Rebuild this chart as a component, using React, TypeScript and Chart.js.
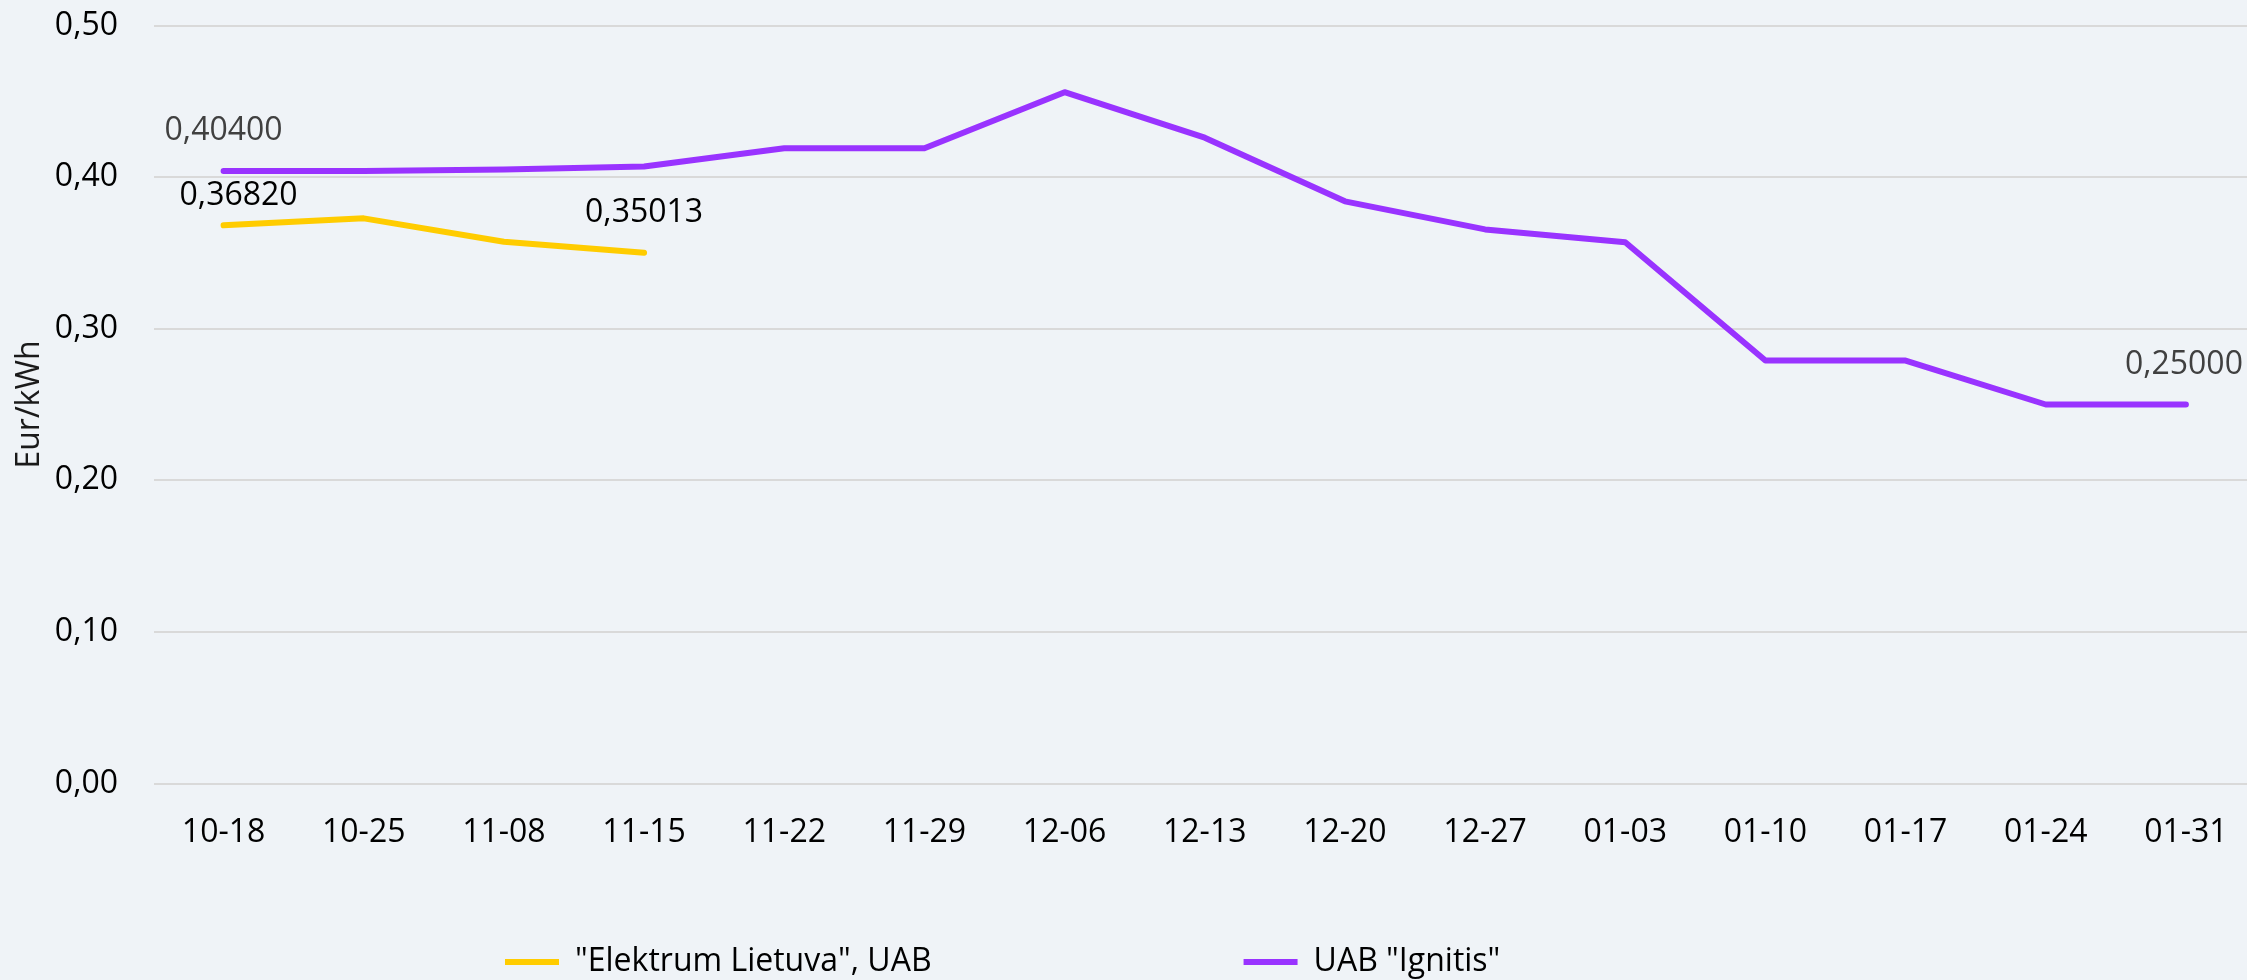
import React, { useEffect, useRef } from 'react';
import { Chart, registerables } from 'chart.js';

Chart.register(...registerables);

const categories = ['10-18', '10-25', '11-08', '11-15', '11-22', '11-29', '12-06', '12-13', '12-20', '12-27', '01-03', '01-10', '01-17', '01-24', '01-31'];
const elektrumValues: (number | null)[] = [0.3682, 0.3728, 0.3574, 0.35013, null, null, null, null, null, null, null, null, null, null, null];
const ignitisValues: number[] = [0.404, 0.404, 0.405, 0.407, 0.419, 0.419, 0.456, 0.426, 0.384, 0.3655, 0.357, 0.279, 0.279, 0.25, 0.25];
const yTickLabels = ['0,00', '0,10', '0,20', '0,30', '0,40', '0,50'];
const seriesNames = ['"Elektrum Lietuva", UAB', 'UAB "Ignitis"'];
const yAxisTitle = 'Eur/kWh';

const FONT = "'Open Sans', 'DejaVu Sans', sans-serif";
const BG = 'rgb(239,243,247)';
const YELLOW = '#FFCC00';
const PURPLE = '#9933FF';

// which points carry a value label, and how it is nudged
const labelSpec = [
  { dataset: 0, index: 0, dx: 15, dy: -29, color: '#000000' },
  { dataset: 0, index: 3, dx: 0, dy: -40, color: '#000000' },
  { dataset: 1, index: 0, dx: 0, dy: -40, color: '#404040' },
  { dataset: 1, index: 14, dx: -2, dy: -40, color: '#404040' },
];

const valueLabels = {
  id: 'valueLabels',
  afterDatasetsDraw(chart: any) {
    const ctx = chart.ctx;
    ctx.save();
    ctx.font = `32px ${FONT}`;
    ctx.textAlign = 'center';
    ctx.textBaseline = 'middle';
    for (const s of labelSpec) {
      const meta = chart.getDatasetMeta(s.dataset);
      const el = meta.data[s.index];
      const v = chart.data.datasets[s.dataset].data[s.index];
      if (!el || v == null) continue;
      ctx.fillStyle = s.color;
      ctx.fillText(Number(v).toFixed(5).replace('.', ','), el.x + s.dx, el.y + s.dy);
    }
    ctx.restore();
  },
};

// places the (built-in) legend row like the original
const legendPlace = {
  id: 'legendPlace',
  beforeDraw(chart: any) {
    const lg = chart.legend;
    if (!lg || !lg.lineWidths) return;
    const P = lg.options.labels.padding;
    const lw = lg.lineWidths[0];
    const startX = 505;
    const topY = 946;
    lg.left = 0;
    lg.right = 2 * startX - P + lw;
    lg.top = topY - P;
  },
};

export default function App() {
  const ref = useRef<HTMLCanvasElement | null>(null);

  useEffect(() => {
    if (!ref.current) return;
    const chart = new Chart(ref.current, {
      type: 'line',
      data: {
        labels: categories,
        datasets: [
          {
            label: seriesNames[0],
            data: elektrumValues,
            borderColor: YELLOW,
            backgroundColor: YELLOW,
            borderWidth: 6,
            borderCapStyle: 'round',
            borderJoinStyle: 'round',
            pointRadius: 0,
            tension: 0,
            spanGaps: false,
          },
          {
            label: seriesNames[1],
            data: ignitisValues,
            borderColor: PURPLE,
            backgroundColor: PURPLE,
            borderWidth: 6,
            borderCapStyle: 'round',
            borderJoinStyle: 'round',
            pointRadius: 0,
            tension: 0,
          },
        ],
      },
      options: {
        animation: false,
        responsive: false,
        devicePixelRatio: 1,
        layout: { padding: { top: 25.5, left: 0, right: 0, bottom: 0 } },
        plugins: {
          tooltip: { enabled: false },
          legend: {
            position: 'bottom',
            maxHeight: 80,
            labels: {
              usePointStyle: true,
              pointStyle: 'line',
              pointStyleWidth: 54,
              boxHeight: 32,
              padding: 312,
              color: '#000000',
              font: { family: FONT, size: 32 },
            },
          },
        },
        scales: {
          x: {
            type: 'category',
            offset: true,
            grid: { display: false, drawTicks: false },
            border: { display: false },
            ticks: {
              color: '#000000',
              font: { family: FONT, size: 32 },
              padding: 30,
              maxRotation: 0,
              autoSkip: false,
            },
            afterFit: (scale: any) => {
              scale.height = 116.5;
              scale.paddingLeft = 0;
              scale.paddingRight = 0;
            },
          },
          y: {
            min: 0,
            max: 0.5,
            grid: { color: '#D9D9D9', lineWidth: 2, drawTicks: false },
            border: { display: false },
            ticks: {
              stepSize: 0.1,
              color: '#000000',
              padding: 35.5,
              font: { family: FONT, size: 32 },
              callback: (_v: any, i: number) => yTickLabels[i],
            },
            title: {
              display: true,
              text: yAxisTitle,
              color: '#1a1a1a',
              font: { family: FONT, size: 32 },
              padding: { top: 11, bottom: 0 },
            },
            afterFit: (scale: any) => {
              scale.width = 153.5;
              scale.paddingTop = 0;
              scale.paddingBottom = 0;
            },
          },
        },
      },
      plugins: [valueLabels, legendPlace],
    } as any);
    return () => chart.destroy();
  }, []);

  return (
    <div
      style={{
        position: 'fixed',
        left: 0,
        top: 0,
        width: 2247,
        height: 980,
        overflow: 'hidden',
        background: BG,
      }}
    >
      <canvas ref={ref} width={2256} height={980} style={{ display: 'block' }} />
    </div>
  );
}
